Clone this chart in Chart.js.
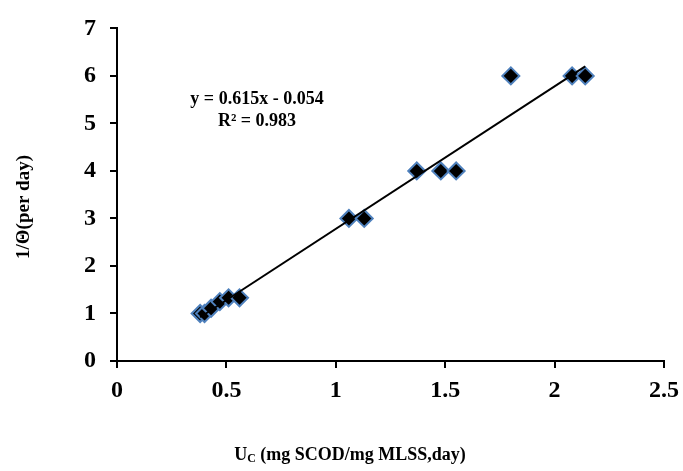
<!DOCTYPE html>
<html>
<head>
<meta charset="utf-8">
<script src="https://cdn.jsdelivr.net/npm/chart.js@4.4.1/dist/chart.umd.min.js"></script>
<style>
  html, body { margin: 0; padding: 0; background: #fff; }
  #wrap { width: 683px; height: 471px; }
</style>
</head>
<body>
<div id="wrap"><canvas id="grafico" width="683" height="471"></canvas></div>
<script>
// Datos medidos: carga Uc contra 1/θ
const uc = [0.38, 0.40, 0.43, 0.47, 0.51, 0.56, 1.06, 1.13, 1.37, 1.48, 1.55, 1.80, 2.08, 2.14];
const invTheta = [1.00, 1.00, 1.11, 1.25, 1.33, 1.33, 3.00, 3.00, 4.00, 4.00, 4.00, 6.00, 6.00, 6.00];

// Extremos de la recta de tendencia
const tendX = [0.38, 2.14];
const tendY = [0.92, 6.20];

const ticksX = ["0", "0.5", "1", "1.5", "2", "2.5"];
const ticksY = ["0", "1", "2", "3", "4", "5", "6", "7"];

const ecuacion = ["y = 0.615x - 0.054", "R\u00b2 = 0.983"];

const serif = "'Liberation Serif', 'Times New Roman', serif";

// Titulos de ejes y ecuacion dibujados a mano (el subindice C no lo hace Chart.js)
const textos = {
  id: "textos",
  afterDraw(chart) {
    const ctx = chart.ctx;
    ctx.save();
    ctx.fillStyle = "#000";
    ctx.textBaseline = "middle";

    ctx.font = "bold 18px " + serif;
    ctx.textAlign = "center";
    ctx.fillText(ecuacion[0], 257, 99);
    ctx.fillText(ecuacion[1], 257, 121);

    // titulo eje x: U con subindice C
    const resto = " (mg SCOD/mg MLSS,day)";
    ctx.font = "bold 18px " + serif;
    const wU = ctx.measureText("U").width;
    const wR = ctx.measureText(resto).width;
    ctx.font = "bold 12px " + serif;
    const wC = ctx.measureText("C").width;
    let x = 350 - (wU + wC + wR) / 2;
    ctx.textAlign = "left";
    ctx.font = "bold 18px " + serif;
    ctx.fillText("U", x, 455);
    x += wU;
    ctx.font = "bold 12px " + serif;
    ctx.fillText("C", x, 459);
    x += wC;
    ctx.font = "bold 18px " + serif;
    ctx.fillText(resto, x, 455);

    // titulo eje y
    ctx.translate(24, 207);
    ctx.rotate(-Math.PI / 2);
    ctx.textAlign = "center";
    ctx.font = "bold 19px " + serif;
    ctx.fillText("1/\u0398(per day)", 0, 0);
    ctx.restore();
  }
};

const ctx = document.getElementById("grafico").getContext("2d");
new Chart(ctx, {
  type: "scatter",
  data: {
    datasets: [
      {
        label: "Tendencia",
        type: "line",
        data: tendX.map((v, i) => ({ x: v, y: tendY[i] })),
        borderColor: "#000",
        borderWidth: 2,
        pointRadius: 0,
        fill: false,
        order: 0
      },
      {
        label: "Datos",
        data: uc.map((v, i) => ({ x: v, y: invTheta[i] })),
        pointStyle: "rectRot",
        pointRadius: 8.5,
        pointHoverRadius: 8.5,
        backgroundColor: "#000",
        borderColor: "#4F81BD",
        borderWidth: 2,
        order: 1
      }
    ]
  },
  options: {
    responsive: false,
    animation: false,
    layout: { padding: { top: 20, right: 19, left: 0, bottom: 0 } },
    plugins: {
      legend: { display: false },
      tooltip: { enabled: false }
    },
    scales: {
      x: {
        type: "linear",
        min: 0,
        max: 2.5,
        afterBuildTicks: (s) => { s.ticks = ticksX.map(t => ({ value: Number(t) })); },
        afterFit: (s) => { s.height = 110; s.paddingRight = 0; s.paddingLeft = 0; },
        ticks: {
          callback: (v, i) => ticksX[i],
          color: "#000",
          padding: 8,
          maxRotation: 0,
          font: { family: serif, size: 24, weight: "bold" }
        },
        grid: { display: true, drawOnChartArea: false, drawTicks: true, tickLength: 7, color: "#000", lineWidth: 2 },
        border: { display: true, color: "#000", width: 2 }
      },
      y: {
        type: "linear",
        min: 0,
        max: 7,
        afterBuildTicks: (s) => { s.ticks = ticksY.map(t => ({ value: Number(t) })); },
        afterFit: (s) => { s.width = 117; },
        ticks: {
          callback: (v, i) => ticksY[i],
          color: "#000",
          padding: 14,
          font: { family: serif, size: 24, weight: "bold" }
        },
        grid: { display: true, drawOnChartArea: false, drawTicks: true, tickLength: 7, color: "#000", lineWidth: 2 },
        border: { display: true, color: "#000", width: 2 }
      }
    }
  },
  plugins: [textos]
});
</script>
</body>
</html>
